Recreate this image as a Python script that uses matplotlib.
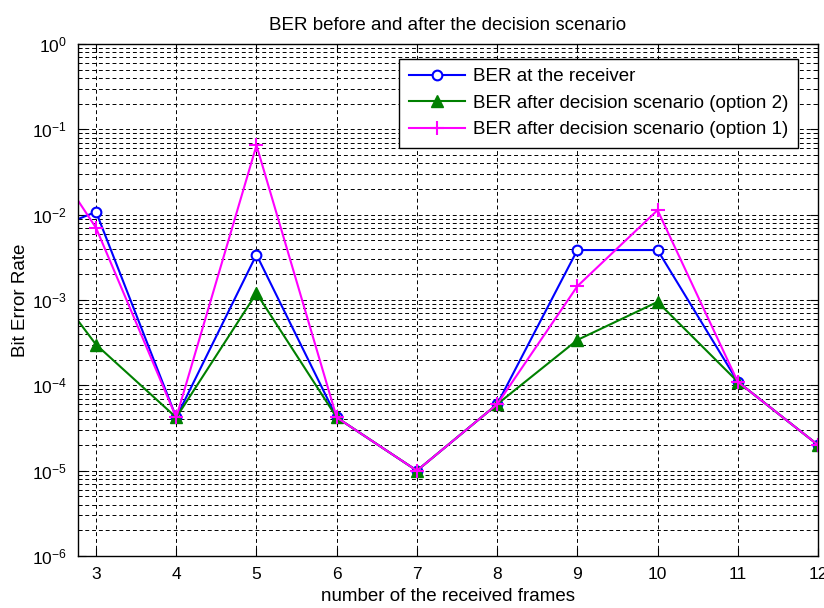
import numpy as np
import matplotlib
matplotlib.use('Agg')
import matplotlib.pyplot as plt
from matplotlib.ticker import LogLocator, NullFormatter

plt.rcParams['font.family'] = ['Liberation Sans', 'DejaVu Sans']

# Data (frames 2..12; frame 2 is clipped by the x limits)
frames = [2, 3, 4, 5, 6, 7, 8, 9, 10, 11, 12]
ber_receiver = [4.5e-3, 1.08e-2, 4.2e-5, 3.4e-3, 4.2e-5, 1.0e-5, 6.0e-5, 3.85e-3, 3.85e-3, 1.1e-4, 2.0e-5]
ber_option2 = [5.3e-3, 3.0e-4, 4.2e-5, 1.2e-3, 4.2e-5, 1.0e-5, 6.0e-5, 3.4e-4, 9.5e-4, 1.1e-4, 2.0e-5]
ber_option1 = [1.85e-1, 7.0e-3, 4.2e-5, 6.5e-2, 4.2e-5, 1.0e-5, 6.0e-5, 1.45e-3, 1.13e-2, 1.1e-4, 2.0e-5]
xticks = [3, 4, 5, 6, 7, 8, 9, 10, 11, 12]

fig = plt.figure(figsize=(8.24, 6.08), dpi=100)
ax = fig.add_axes([78/824, 1 - 556/608, 740/824, 512/608])

ax.semilogy(frames, ber_receiver, color='blue', lw=1.5, marker='o', ms=7,
            mfc='white', mec='blue', mew=1.5, label='BER at the receiver')
ax.semilogy(frames, ber_option2, color=(0, 0.5, 0), lw=1.5, marker='^', ms=8,
            mfc=(0, 0.5, 0), mec=(0, 0.5, 0), label='BER after decision scenario (option 2)')
ax.semilogy(frames, ber_option1, color='magenta', lw=1.5, marker='+', ms=10,
            mew=1.5, label='BER after decision scenario (option 1)')

ax.set_xlim(2.775, 12)
ax.set_ylim(1e-6, 1)
ax.set_xticks(xticks)
ax.yaxis.set_major_locator(LogLocator(base=10, numticks=10))
ax.yaxis.set_minor_locator(LogLocator(base=10, subs=np.arange(2, 10), numticks=20))
ax.yaxis.set_minor_formatter(NullFormatter())

ax.grid(True, which='major', axis='both', color='black', ls=(0, (4, 3)), lw=0.7)
ax.grid(True, which='minor', axis='y', color='black', ls=(0, (4, 3)), lw=0.7)
ax.tick_params(which='both', direction='in', top=True, right=True, labelsize=12.5, pad=8)
ax.tick_params(which='major', length=6)
ax.tick_params(which='minor', length=3)
for s in ax.spines.values():
    s.set_linewidth(1.0)

ax.set_title('BER before and after the decision scenario', fontsize=13.5, pad=10)
ax.set_xlabel('number of the received frames', fontsize=13.5, labelpad=4)
ax.set_ylabel('Bit Error Rate', fontsize=13.5, labelpad=2)

leg = ax.legend(loc='upper right', bbox_to_anchor=(0.973, 0.971), fontsize=13.5,
                fancybox=False, framealpha=1, edgecolor='black', handlelength=3.0,
                handletextpad=0.45, borderpad=0.5, labelspacing=0.5, borderaxespad=0)
leg.get_frame().set_linewidth(1.0)

fig.savefig('out.png', dpi=100)
